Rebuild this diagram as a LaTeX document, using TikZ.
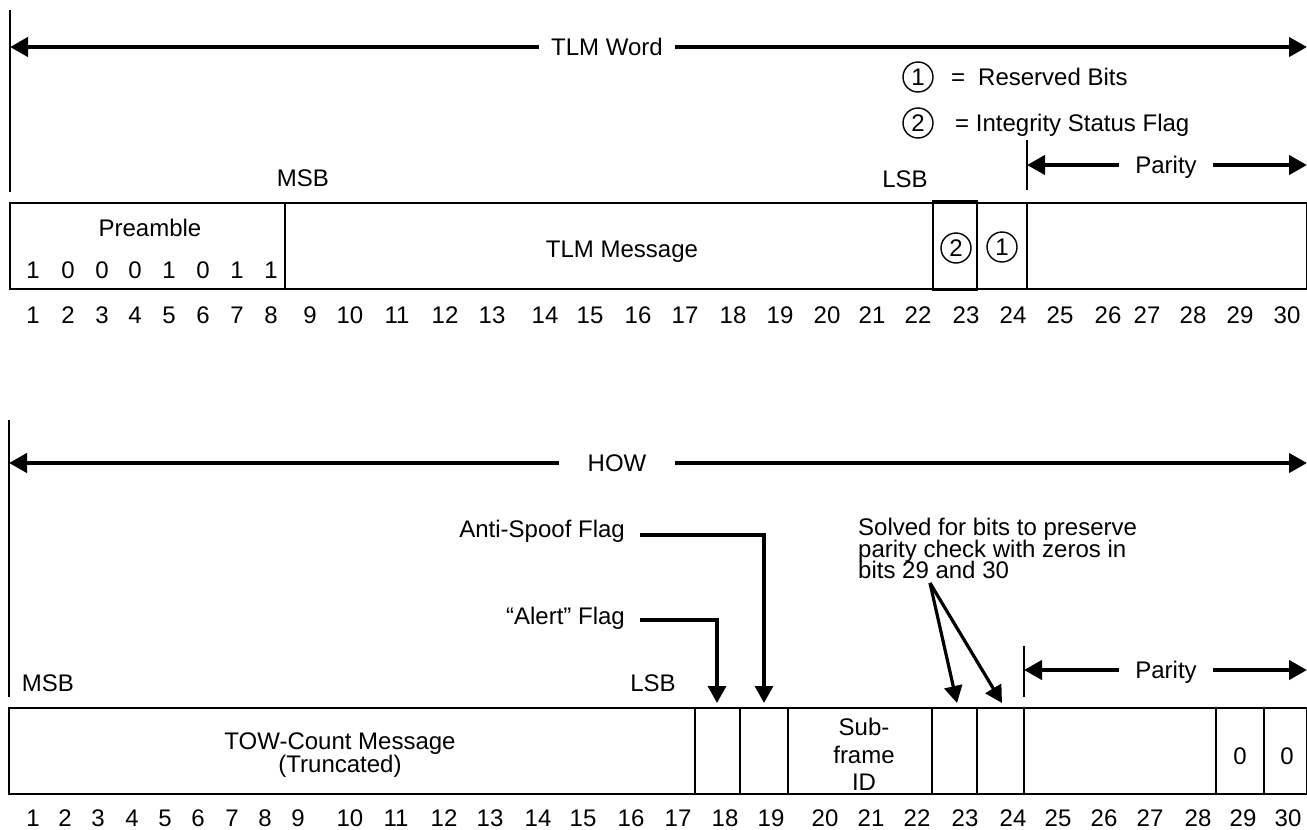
\documentclass[tikz,border=0pt]{standalone}
\usepackage{fontspec}
\setmainfont{Liberation Sans}
\usetikzlibrary{arrows.meta}
\newcommand\tightlines{\lineskiplimit=-50pt\relax}

\begin{document}
\begin{tikzpicture}[x=1pt,y=-1pt,
  font=\fontsize{24}{28}\selectfont,
  lbl/.style={inner xsep=0pt,inner ysep=0pt,text height=17.2pt,text depth=0pt},
  field/.style={line width=1.8pt},
  span/.style={line width=4.2pt,-{Triangle[length=18pt,width=19pt]}},
  flag/.style={line width=3.2pt,-{Triangle[length=17pt,width=18pt]}},
  ring/.style={draw,circle,line width=1.4pt,minimum size=30pt,inner sep=0pt}]
  \useasboundingbox (0,0) rectangle (1307,830);

  % TLM word
  \draw[field] (10,10) -- (10,192);
  \coordinate (tlmL) at (10,47);
  \coordinate (tlmR) at (1307,47);
  \node[lbl,inner xsep=12pt] (tlm) at (607,47) {TLM Word};
  \draw[span] (tlm.west) -- (tlmL);
  \draw[span] (tlm.east) -- (tlmR);

  \node[ring] (key1) at (918,77) {1};
  \node[lbl,anchor=west] (key1txt) at (951,77) {=\hspace{13pt}Reserved Bits};
  \node[ring] (key2) at (918,123) {2};
  \node[lbl,anchor=west] (key2txt) at (955,123) {= Integrity Status Flag};

  \draw[field] (1027,140) -- (1027,190);
  \coordinate (parL) at (1027,165);
  \coordinate (parR) at (1307,165);
  \node[lbl,inner xsep=16pt] (par) at (1166,165) {Parity};
  \draw[span] (par.west) -- (parL);
  \draw[span] (par.east) -- (parR);

  \node[lbl] (msbA) at (303,178) {MSB};
  \node[lbl] (lsbA) at (905,179) {LSB};

  \draw[field] (10,203) rectangle (1307,289);
  \foreach \x in {285,977,1027}
    \draw[field] (\x,203) -- (\x,289);
  \draw[line width=2.4pt] (933,201) rectangle (977,290);

  \node[lbl] (pre) at (150,228) {Preamble};
  \foreach \b/\x [count=\i] in {1/33,0/68,0/102,0/135,1/169,0/203,1/237,1/271}
    \node[lbl] (pre\i) at (\x,270) {\b};
  \node[lbl] (tlmmsg) at (622,249) {TLM Message};
  \node[ring] (isf) at (956,248) {2};
  \node[ring] (rsv) at (1002,247) {1};

  \foreach \x [count=\i] in {33,68,102,135,169,203,237,271,310,350,397,445,492,545,590,638,685,733,780,827,872,918,966,1013,1060,1108,1147,1193,1240,1287}
    \node[lbl] (ta\i) at (\x,315) {\i};

  % HOW
  \draw[field] (9,420) -- (9,697);
  \coordinate (howL) at (9,463);
  \coordinate (howR) at (1307,463);
  \node[lbl,inner xsep=28pt] (how) at (617,463) {HOW};
  \draw[span] (how.west) -- (howL);
  \draw[span] (how.east) -- (howR);

  \node[lbl,anchor=east] (anti) at (625,529) {Anti-Spoof Flag};
  \node[lbl,anchor=east] (alert) at (625,616) {“Alert” Flag};
  \coordinate (bit18) at (717,703);
  \coordinate (bit19) at (764,703);
  \draw[flag] ([shift={(15,6)}]anti.east) -| (bit19);
  \draw[flag] ([shift={(15,4)}]alert.east) -| (bit18);

  \node[anchor=north west,inner sep=0pt,align=left,
    font={\fontsize{24}{21.5}\selectfont\tightlines}] (solved) at (858,518)
    {Solved for bits to preserve\\parity check with zeros in\\bits 29 and 30};
  \coordinate (fan) at (930,583);
  \coordinate (bit23) at (957,703);
  \coordinate (bit24) at (1002,703);
  \draw[flag] (fan) -- (bit23);
  \draw[flag] (fan) -- (bit24);

  \draw[field] (1024,646) -- (1024,697);
  \coordinate (parL2) at (1024,670);
  \coordinate (parR2) at (1307,670);
  \node[lbl,inner xsep=16pt] (par2) at (1166,670) {Parity};
  \draw[span] (par2.west) -- (parL2);
  \draw[span] (par2.east) -- (parR2);

  \node[lbl] (msbB) at (48,683) {MSB};
  \node[lbl] (lsbB) at (653,683) {LSB};

  \draw[field] (9,708) rectangle (1307,794);
  \foreach \x in {695,740,788,932,977,1024,1216,1264}
    \draw[field] (\x,708) -- (\x,794);

  \node[anchor=north,inner sep=0pt,align=center,
    font={\fontsize{24}{23}\selectfont\tightlines}] (tow) at (340,733)
    {TOW-Count Message\\(Truncated)};
  \node[anchor=north,inner sep=0pt,align=center,font=\fontsize{24}{27.5}\selectfont] (sfid) at (864,718)
    {Sub-\\frame\\ID};
  \node[lbl] (zero29) at (1240,756) {0};
  \node[lbl] (zero30) at (1287,756) {0};

  \foreach \x [count=\i] in {33,65,98,132,165,198,232,265,298,350,396,444,490,538,583,631,678,725,771,825,871,917,965,1013,1058,1104,1150,1198,1243,1288}
    \node[lbl] (tb\i) at (\x,818) {\i};
\end{tikzpicture}
\end{document}
